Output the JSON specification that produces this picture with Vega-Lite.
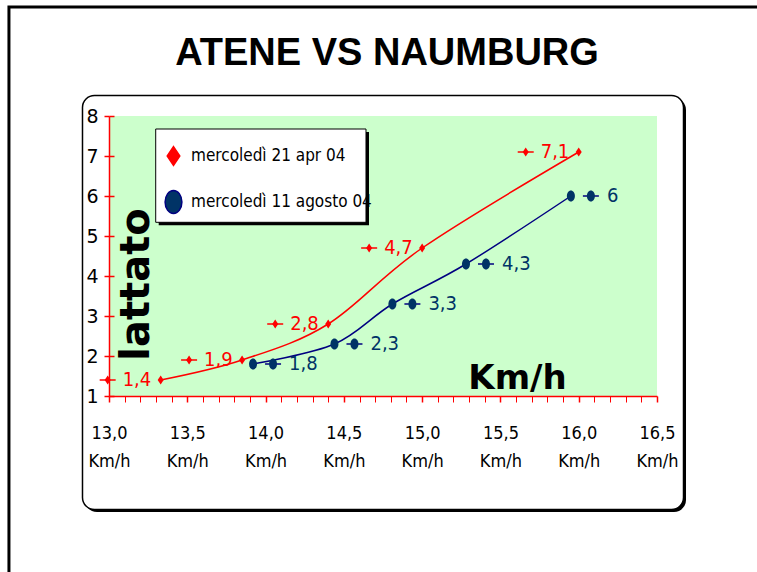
{
  "$schema": "https://vega.github.io/schema/vega-lite/v6.json",
  "width": 548,
  "height": 280,
  "autosize": {"type": "none"},
  "padding": {"left": 109, "top": 116, "right": 100, "bottom": 176},
  "background": "white",
  "config": {
    "view": {"stroke": null},
    "locale": {"number": {"decimal": ",", "thousands": ".", "grouping": [3], "currency": ["", " €"]}},
    "axis": {
      "domainColor": "#ff0000",
      "domainWidth": 1.5,
      "tickColor": "#ff0000",
      "grid": true,
      "gridColor": "#ff0000",
      "gridWidth": 1.5,
      "labelColor": "black",
      "labelFlush": false,
      "labelOverlap": false,
      "titleColor": "black",
      "titleFontWeight": "bold"
    },
    "axisX": {
      "tickCount": 35,
      "format": ".1f",
      "labelExpr": "abs(datum.value * 2 - round(datum.value * 2)) < 0.001 ? [datum.label, 'Km/h'] : ''",
      "tickWidth": {"condition": {"test": "abs(datum.value * 2 - round(datum.value * 2)) < 0.001", "value": 1.5}, "value": 1},
      "tickSize": 6,
      "gridDash": [0, 274, 6, 2000],
      "gridOpacity": {"condition": {"test": "abs(datum.value * 2 - round(datum.value * 2)) < 0.001", "value": 1}, "value": 0},
      "labelFont": "DejaVu Sans Condensed",
      "labelFontSize": 18,
      "labelPadding": 22,
      "labelBaseline": "top",
      "labelLineHeight": 28,
      "titleFont": "DejaVu Sans",
      "titleFontSize": 34,
      "titleX": 408,
      "titleY": -8,
      "titleAlign": "center",
      "titleBaseline": "alphabetic",
      "titleAngle": 0
    },
    "axisY": {
      "tickCount": 7,
      "tickWidth": 1.5,
      "tickSize": 5,
      "gridDash": [5, 2000],
      "labelFont": "DejaVu Sans",
      "labelFontSize": 19,
      "labelPadding": 6,
      "titleFont": "DejaVu Sans",
      "titleFontSize": 40,
      "titleAngle": 270,
      "titleX": 39,
      "titleY": 168,
      "titleAlign": "center",
      "titleBaseline": "alphabetic"
    }
  },
  "title": {
    "text": "ATENE VS NAUMBURG",
    "frame": "group",
    "anchor": "middle",
    "dx": 4,
    "offset": -97,
    "baseline": "alphabetic",
    "font": "Liberation Sans",
    "fontSize": 38,
    "fontWeight": "bold",
    "color": "black"
  },
  "data": {
    "values": [
      {"serie": "mercoledì 21 apr 04", "km": 13.33, "lattato": 1.4},
      {"serie": "mercoledì 21 apr 04", "km": 13.85, "lattato": 1.9},
      {"serie": "mercoledì 21 apr 04", "km": 14.4, "lattato": 2.8},
      {"serie": "mercoledì 21 apr 04", "km": 15.0, "lattato": 4.7},
      {"serie": "mercoledì 21 apr 04", "km": 16.0, "lattato": 7.1},
      {"serie": "mercoledì 11 agosto 04", "km": 13.92, "lattato": 1.8},
      {"serie": "mercoledì 11 agosto 04", "km": 14.44, "lattato": 2.3},
      {"serie": "mercoledì 11 agosto 04", "km": 14.81, "lattato": 3.3},
      {"serie": "mercoledì 11 agosto 04", "km": 15.28, "lattato": 4.3},
      {"serie": "mercoledì 11 agosto 04", "km": 15.95, "lattato": 6}
    ]
  },
  "layer": [
    {
      "data": {"values": [{}]},
      "mark": {"type": "rect", "fill": "transparent", "stroke": "black", "strokeWidth": 3},
      "encoding": {
        "x": {"datum": 12.361, "type": "quantitative", "scale": {"domain": [13, 16.5], "nice": false, "zero": false}, "title": "Km/h", "axis": {"zindex": 1}},
        "x2": {"datum": 17.2},
        "y": {"datum": 10.725, "type": "quantitative", "scale": {"domain": [1, 8], "nice": false, "zero": false}, "title": "lattato", "axis": {"zindex": 1}},
        "y2": {"datum": -3.6}
      }
    },
    {
      "data": {"values": [{}]},
      "mark": {"type": "rect", "fill": "black", "cornerRadius": 12, "xOffset": 2.5, "x2Offset": 2.5, "yOffset": 2.5, "y2Offset": 2.5},
      "encoding": {
        "x": {"datum": 12.8307, "type": "quantitative", "scale": {"domain": [13, 16.5], "nice": false, "zero": false}, "title": "Km/h", "axis": {"zindex": 1}},
        "x2": {"datum": 16.6693},
        "y": {"datum": 8.5125, "type": "quantitative", "scale": {"domain": [1, 8], "nice": false, "zero": false}, "title": "lattato", "axis": {"zindex": 1}},
        "y2": {"datum": -1.8375}
      }
    },
    {
      "data": {"values": [{}]},
      "mark": {"type": "rect", "fill": "white", "stroke": "black", "strokeWidth": 1.5, "cornerRadius": 12},
      "encoding": {
        "x": {"datum": 12.8307, "type": "quantitative", "scale": {"domain": [13, 16.5], "nice": false, "zero": false}, "title": "Km/h", "axis": {"zindex": 1}},
        "x2": {"datum": 16.6693},
        "y": {"datum": 8.5125, "type": "quantitative", "scale": {"domain": [1, 8], "nice": false, "zero": false}, "title": "lattato", "axis": {"zindex": 1}},
        "y2": {"datum": -1.8375}
      }
    },
    {
      "data": {"values": [{}]},
      "mark": {"type": "rect", "fill": "#ccffcc"},
      "encoding": {
        "x": {"datum": 13, "type": "quantitative", "scale": {"domain": [13, 16.5], "nice": false, "zero": false}, "title": "Km/h", "axis": {"zindex": 1}},
        "x2": {"datum": 16.5},
        "y": {"datum": 1, "type": "quantitative", "scale": {"domain": [1, 8], "nice": false, "zero": false}, "title": "lattato", "axis": {"zindex": 1}},
        "y2": {"datum": 8}
      }
    },
    {
      "data": {"values": [{}]},
      "mark": {"type": "rect", "fill": "black", "xOffset": 3, "x2Offset": 3, "yOffset": 3, "y2Offset": 3},
      "encoding": {
        "x": {"datum": 13.2983, "type": "quantitative", "scale": {"domain": [13, 16.5], "nice": false, "zero": false}, "title": "Km/h", "axis": {"zindex": 1}},
        "x2": {"datum": 14.6414},
        "y": {"datum": 7.675, "type": "quantitative", "scale": {"domain": [1, 8], "nice": false, "zero": false}, "title": "lattato", "axis": {"zindex": 1}},
        "y2": {"datum": 5.3425}
      }
    },
    {
      "data": {"values": [{}]},
      "mark": {"type": "rect", "fill": "white", "stroke": "black", "strokeWidth": 1},
      "encoding": {
        "x": {"datum": 13.2983, "type": "quantitative", "scale": {"domain": [13, 16.5], "nice": false, "zero": false}, "title": "Km/h", "axis": {"zindex": 1}},
        "x2": {"datum": 14.6414},
        "y": {"datum": 7.675, "type": "quantitative", "scale": {"domain": [1, 8], "nice": false, "zero": false}, "title": "lattato", "axis": {"zindex": 1}},
        "y2": {"datum": 5.3425}
      }
    },
    {
      "mark": {"type": "line", "interpolate": "cardinal", "tension": 0, "strokeWidth": 1.5},
      "encoding": {
        "x": {"field": "km", "type": "quantitative", "scale": {"domain": [13, 16.5], "nice": false, "zero": false}, "title": "Km/h", "axis": {"zindex": 1}},
        "y": {"field": "lattato", "type": "quantitative", "scale": {"domain": [1, 8], "nice": false, "zero": false}, "title": "lattato", "axis": {"zindex": 1}},
        "stroke": {
          "field": "serie",
          "type": "nominal",
          "scale": {"domain": ["mercoledì 21 apr 04", "mercoledì 11 agosto 04"], "range": ["#ff0000", "#000080"]}
        }
      }
    },
    {
      "mark": {"type": "point", "filled": true, "size": 100, "strokeWidth": 0, "opacity": 1},
      "encoding": {
        "x": {"field": "km", "type": "quantitative", "scale": {"domain": [13, 16.5], "nice": false, "zero": false}, "title": "Km/h", "axis": {"zindex": 1}},
        "y": {"field": "lattato", "type": "quantitative", "scale": {"domain": [1, 8], "nice": false, "zero": false}, "title": "lattato", "axis": {"zindex": 1}},
        "shape": {
          "field": "serie",
          "type": "nominal",
          "scale": {
            "domain": ["mercoledì 21 apr 04", "mercoledì 11 agosto 04"],
            "range": ["M0,-0.9L0.6,0L0,0.9L-0.6,0Z", "M0,-1.1A0.8,1.1 0 1,1 0,1.1A0.8,1.1 0 1,1 0,-1.1Z"]
          }
        },
        "fill": {
          "field": "serie",
          "type": "nominal",
          "scale": {"domain": ["mercoledì 21 apr 04", "mercoledì 11 agosto 04"], "range": ["#ff0000", "#003366"]},
          "legend": {
            "orient": "none",
            "legendX": 53,
            "legendY": 28.5,
            "zindex": 2,
            "title": null,
            "padding": 0,
            "rowPadding": 18,
            "labelOffset": 6,
            "labelFont": "DejaVu Sans Condensed",
            "labelFontSize": 17,
            "labelColor": "black",
            "labelLimit": 400,
            "symbolSize": 441,
            "symbolStrokeWidth": 1.5
          }
        }
      }
    },
    {
      "transform": [{"filter": "datum.serie === 'mercoledì 21 apr 04'"}],
      "mark": {"type": "rule", "stroke": "#ff0000", "strokeWidth": 1.5, "xOffset": -61, "x2Offset": -45},
      "encoding": {
        "x": {"field": "km", "type": "quantitative", "scale": {"domain": [13, 16.5], "nice": false, "zero": false}, "title": "Km/h", "axis": {"zindex": 1}},
        "x2": {"field": "km"},
        "y": {"field": "lattato", "type": "quantitative", "scale": {"domain": [1, 8], "nice": false, "zero": false}, "title": "lattato", "axis": {"zindex": 1}}
      }
    },
    {
      "transform": [{"filter": "datum.serie === 'mercoledì 11 agosto 04'"}],
      "mark": {"type": "rule", "stroke": "#000080", "strokeWidth": 1.5, "xOffset": 12, "x2Offset": 28},
      "encoding": {
        "x": {"field": "km", "type": "quantitative", "scale": {"domain": [13, 16.5], "nice": false, "zero": false}, "title": "Km/h", "axis": {"zindex": 1}},
        "x2": {"field": "km"},
        "y": {"field": "lattato", "type": "quantitative", "scale": {"domain": [1, 8], "nice": false, "zero": false}, "title": "lattato", "axis": {"zindex": 1}}
      }
    },
    {
      "transform": [{"filter": "datum.serie === 'mercoledì 21 apr 04'"}],
      "mark": {"type": "point", "filled": true, "size": 100, "strokeWidth": 0, "opacity": 1, "xOffset": -53},
      "encoding": {
        "x": {"field": "km", "type": "quantitative", "scale": {"domain": [13, 16.5], "nice": false, "zero": false}, "title": "Km/h", "axis": {"zindex": 1}},
        "y": {"field": "lattato", "type": "quantitative", "scale": {"domain": [1, 8], "nice": false, "zero": false}, "title": "lattato", "axis": {"zindex": 1}},
        "shape": {"field": "serie", "type": "nominal"},
        "fill": {"field": "serie", "type": "nominal"}
      }
    },
    {
      "transform": [{"filter": "datum.serie === 'mercoledì 11 agosto 04'"}],
      "mark": {"type": "point", "filled": true, "size": 100, "strokeWidth": 0, "opacity": 1, "xOffset": 20},
      "encoding": {
        "x": {"field": "km", "type": "quantitative", "scale": {"domain": [13, 16.5], "nice": false, "zero": false}, "title": "Km/h", "axis": {"zindex": 1}},
        "y": {"field": "lattato", "type": "quantitative", "scale": {"domain": [1, 8], "nice": false, "zero": false}, "title": "lattato", "axis": {"zindex": 1}},
        "shape": {"field": "serie", "type": "nominal"},
        "fill": {"field": "serie", "type": "nominal"}
      }
    },
    {
      "transform": [{"filter": "datum.serie === 'mercoledì 21 apr 04'"}],
      "mark": {"type": "text", "align": "left", "baseline": "middle", "xOffset": -38, "font": "DejaVu Sans Condensed", "fontSize": 20, "fill": "#ff0000"},
      "encoding": {
        "x": {"field": "km", "type": "quantitative", "scale": {"domain": [13, 16.5], "nice": false, "zero": false}, "title": "Km/h", "axis": {"zindex": 1}},
        "y": {"field": "lattato", "type": "quantitative", "scale": {"domain": [1, 8], "nice": false, "zero": false}, "title": "lattato", "axis": {"zindex": 1}},
        "text": {"field": "lattato", "type": "quantitative", "format": ".1~f"}
      }
    },
    {
      "transform": [{"filter": "datum.serie === 'mercoledì 11 agosto 04'"}],
      "mark": {"type": "text", "align": "left", "baseline": "middle", "xOffset": 36, "font": "DejaVu Sans Condensed", "fontSize": 20, "fill": "#003366"},
      "encoding": {
        "x": {"field": "km", "type": "quantitative", "scale": {"domain": [13, 16.5], "nice": false, "zero": false}, "title": "Km/h", "axis": {"zindex": 1}},
        "y": {"field": "lattato", "type": "quantitative", "scale": {"domain": [1, 8], "nice": false, "zero": false}, "title": "lattato", "axis": {"zindex": 1}},
        "text": {"field": "lattato", "type": "quantitative", "format": ".1~f"}
      }
    }
  ]
}
